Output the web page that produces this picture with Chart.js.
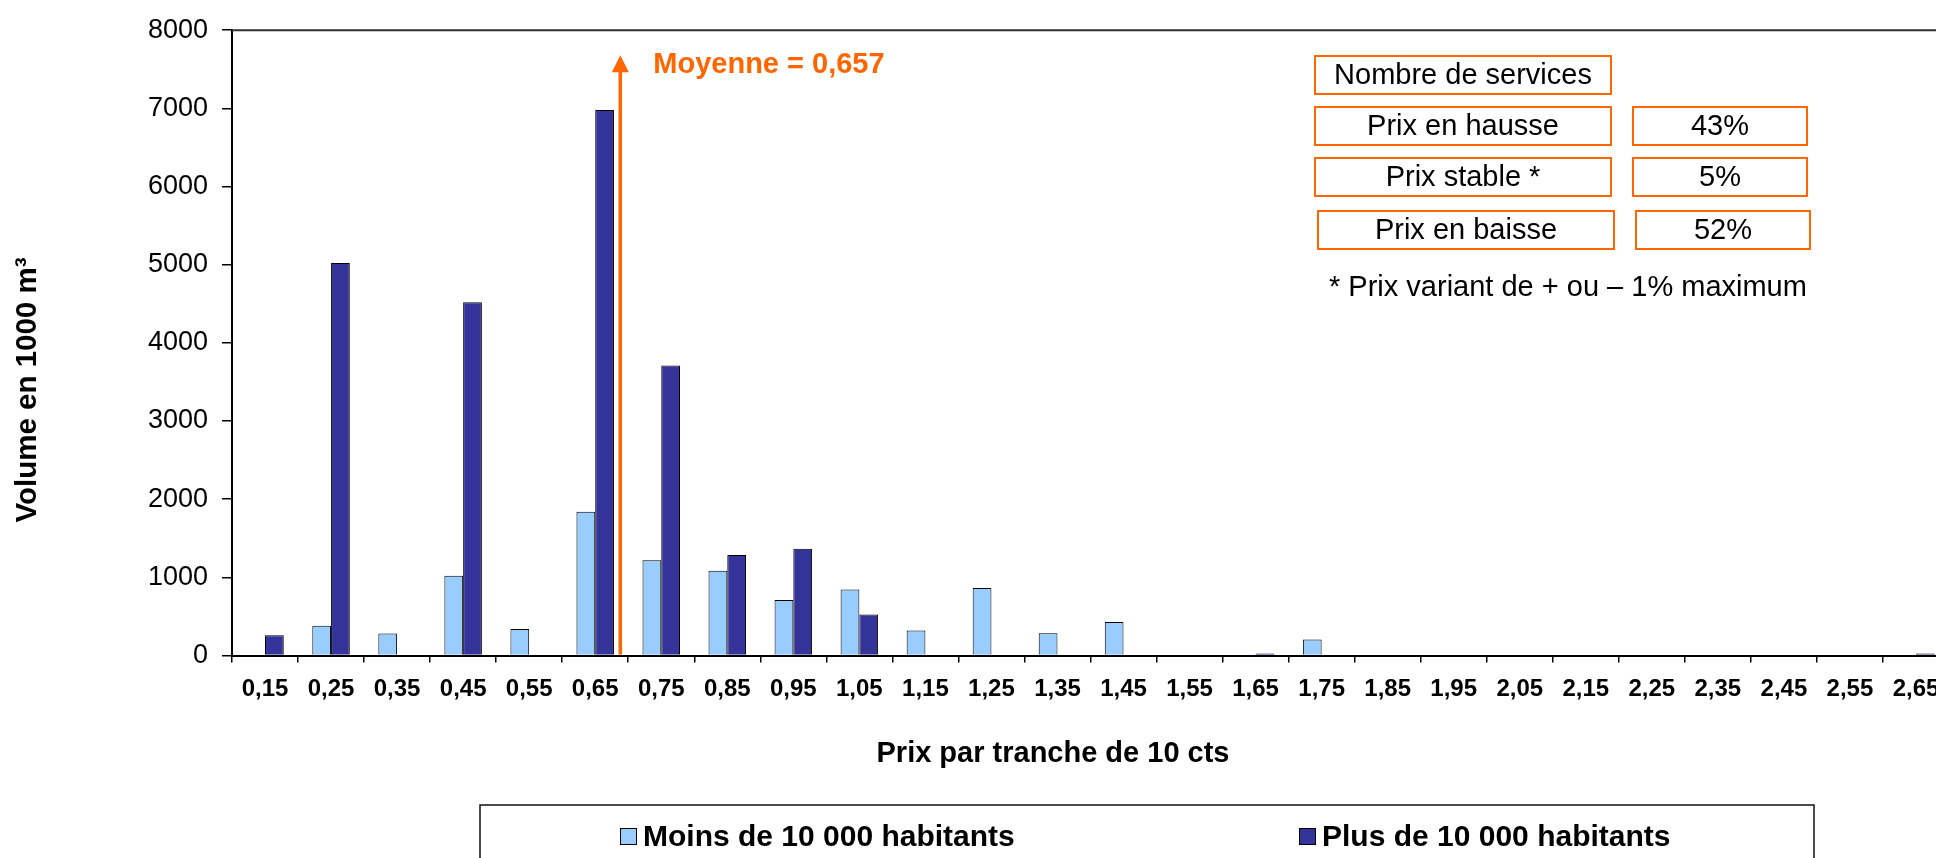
<!DOCTYPE html>
<html>
<head>
<meta charset="utf-8">
<script src="https://cdn.jsdelivr.net/npm/chart.js@4.4.1/dist/chart.umd.min.js"></script>
<style>
  html, body { margin: 0; padding: 0; background: #fff; overflow: hidden; }
  #wrap { width: 1936px; height: 858px; overflow: hidden; position: relative; }
  canvas { display: block; }
</style>
</head>
<body>
<div id="wrap"><canvas id="chart" width="1990" height="858" style="width:1990px;height:858px"></canvas></div>
<script>
// Price brackets (10 cts)
const categories = [
  "0,15", "0,25", "0,35", "0,45", "0,55", "0,65", "0,75", "0,85", "0,95",
  "1,05", "1,15", "1,25", "1,35", "1,45", "1,55", "1,65", "1,75", "1,85",
  "1,95", "2,05", "2,15", "2,25", "2,35", "2,45", "2,55", "2,65"
];

// Volume in 1000 m3 (null = no bar)
const moinsDe10000 = [
  null, 380, 280, 1020, 340, 1840, 1220, 1085, 710,
  845, 320, 865, 285, 430, null, null, 205, null,
  null, null, null, null, null, null, null, null
];
const plusDe10000 = [
  260, 5020, null, 4520, null, 6980, 3710, 1285, 1365,
  525, null, null, null, null, null, 25, null, null,
  null, null, null, null, null, null, null, 25
];

const yMax = 8000;
const yStep = 1000;

// Mean annotation
const meanLabel = "Moyenne = 0,657";
const meanArrowAt = 5.38; // position on the category axis where the arrow is drawn
const meanArrowTop = 7680;

// Services table
const serviceHeader = "Nombre de services";
const serviceLabels = ["Prix en hausse", "Prix stable *", "Prix en baisse"];
const servicePct = ["43%", "5%", "52%"];
const serviceNote = "* Prix variant de + ou \u2013 1% maximum";

const ORANGE = "#FF6600";
const FONT = "'Liberation Sans', Arial, sans-serif";

const decorPlugin = {
  id: "decor",
  beforeDatasetsDraw(chart) {
    const { ctx, chartArea } = chart;
    // plot area frame (top/right)
    ctx.save();
    ctx.strokeStyle = "#333";
    ctx.lineWidth = 2;
    ctx.beginPath();
    ctx.moveTo(chartArea.left, chartArea.top);
    ctx.lineTo(chartArea.right, chartArea.top);
    ctx.lineTo(chartArea.right, chartArea.bottom);
    ctx.stroke();
    ctx.restore();
  },
  afterDatasetsDraw(chart) {
    const { ctx, chartArea } = chart;
    const x = chart.scales.x.getPixelForValue(meanArrowAt);
    const top = chart.scales.y.getPixelForValue(meanArrowTop);
    ctx.save();
    ctx.strokeStyle = ORANGE;
    ctx.fillStyle = ORANGE;
    ctx.lineWidth = 3.5;
    ctx.beginPath();
    ctx.moveTo(x, chartArea.bottom - 1);
    ctx.lineTo(x, top + 14);
    ctx.stroke();
    ctx.beginPath();
    ctx.moveTo(x, top);
    ctx.lineTo(x - 8.5, top + 17);
    ctx.lineTo(x + 8.5, top + 17);
    ctx.closePath();
    ctx.fill();
    ctx.font = "bold 29px " + FONT;
    ctx.textAlign = "left";
    ctx.textBaseline = "alphabetic";
    ctx.fillText(meanLabel, x + 33, 73);
    ctx.restore();
  },
  afterDraw(chart) {
    const { ctx, chartArea } = chart;
    ctx.save();

    // axis titles
    ctx.fillStyle = "#000";
    ctx.font = "bold 29.5px " + FONT;
    ctx.textAlign = "center";
    ctx.textBaseline = "alphabetic";
    ctx.save();
    ctx.translate(36, 390);
    ctx.rotate(-Math.PI / 2);
    ctx.fillText("Volume en 1000 m\u00b3", 0, 0);
    ctx.restore();
    ctx.font = "bold 29px " + FONT;
    ctx.fillText("Prix par tranche de 10 cts", chartArea.left + 821, 762);

    // services table
    const box = (bx, by, bw, bh, text) => {
      ctx.strokeStyle = ORANGE;
      ctx.lineWidth = 2;
      ctx.strokeRect(bx, by, bw, bh);
      ctx.fillStyle = "#000";
      ctx.font = "29px " + FONT;
      ctx.textAlign = "center";
      ctx.textBaseline = "middle";
      ctx.fillText(text, bx + bw / 2, by + bh / 2 + 1);
    };
    box(1315, 56, 296, 38, serviceHeader);
    const rowX = [1315, 1315, 1318];
    const rowY = [107, 158, 211];
    serviceLabels.forEach((lab, i) => {
      box(rowX[i], rowY[i], 296, 38, lab);
      box(rowX[i] + 318, rowY[i], 174, 38, servicePct[i]);
    });
    ctx.fillStyle = "#000";
    ctx.font = "29px " + FONT;
    ctx.textAlign = "left";
    ctx.textBaseline = "alphabetic";
    ctx.fillText(serviceNote, 1329, 296);

    // legend
    ctx.strokeStyle = "#111";
    ctx.lineWidth = 1.5;
    ctx.strokeRect(480, 805, 1334, 100);
    const itemX = [620, 1299];
    chart.data.datasets.forEach((ds, i) => {
      ctx.fillStyle = ds.backgroundColor;
      ctx.fillRect(itemX[i], 828, 17, 17);
      ctx.strokeStyle = "#000";
      ctx.lineWidth = 1;
      ctx.strokeRect(itemX[i] + 0.5, 828.5, 16, 16);
      ctx.fillStyle = "#000";
      ctx.font = "bold 30px " + FONT;
      ctx.textAlign = "left";
      ctx.textBaseline = "alphabetic";
      ctx.fillText(ds.label, itemX[i] + 23, 846);
    });
    ctx.restore();
  }
};

new Chart(document.getElementById("chart"), {
  type: "bar",
  data: {
    labels: categories,
    datasets: [
      {
        label: "Moins de 10 000 habitants",
        data: moinsDe10000,
        backgroundColor: "#99CCFF",
        borderColor: "#000",
        borderWidth: 1,
        borderSkipped: "start",
      },
      {
        label: "Plus de 10 000 habitants",
        data: plusDe10000,
        backgroundColor: "#333399",
        borderColor: "#000",
        borderWidth: 1,
        borderSkipped: "start",
      },
    ],
  },
  options: {
    responsive: false,
    devicePixelRatio: 1,
    animation: false,
    layout: { padding: { top: 28, right: 41, left: 0, bottom: 0 } },
    datasets: {
      bar: { categoryPercentage: 0.568, barPercentage: 1.0 },
    },
    scales: {
      x: {
        grid: {
          display: true,
          drawOnChartArea: false,
          drawTicks: true,
          tickLength: 7,
          color: "#000",
          lineWidth: 1.5,
          offset: true,
        },
        border: { display: true, color: "#000", width: 2 },
        ticks: {
          color: "#000",
          font: { family: FONT, size: 24, weight: "bold" },
          padding: 12,
          maxRotation: 0,
          autoSkip: false,
        },
        afterFit(scale) { scale.height = 202.5; },
      },
      y: {
        min: 0,
        max: yMax,
        grid: {
          display: true,
          drawOnChartArea: false,
          drawTicks: true,
          tickLength: 10,
          color: "#000",
          lineWidth: 1.5,
        },
        border: { display: true, color: "#000", width: 2 },
        ticks: {
          stepSize: yStep,
          color: "#000",
          font: { family: FONT, size: 27 },
          padding: 14,
          callback: (v) => String(v),
        },
        afterFit(scale) { scale.width = 232; },
      },
    },
    plugins: {
      legend: { display: false },
      tooltip: { enabled: false },
    },
  },
  plugins: [decorPlugin],
});
</script>
</body>
</html>
